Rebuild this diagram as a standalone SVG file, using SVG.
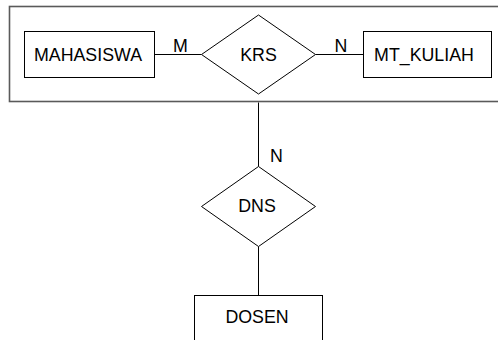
<svg xmlns="http://www.w3.org/2000/svg" width="498" height="340" viewBox="0 0 498 340">
<style>
.shape{fill:#fff;stroke:#000;stroke-width:1}
.line{stroke:#000;stroke-width:1;fill:none}
.t{font-family:"Liberation Sans",Arial,sans-serif;font-size:17.8px;fill:#000}
.c{text-anchor:middle}
</style>
<rect width="498" height="340" fill="#fff"/>
<g id="aggregate">
<rect x="9.5" y="6.5" width="500" height="95" fill="none" stroke="#5a5a5a" stroke-width="1.6"/>
</g>
<g id="connectors">
<line class="line" x1="154.5" y1="54.5" x2="201.5" y2="54.5"/>
<line class="line" x1="315.5" y1="54.5" x2="363.5" y2="54.5"/>
<line class="line" x1="258.5" y1="102.5" x2="258.5" y2="166.5"/>
<line class="line" x1="258.5" y1="246.5" x2="258.5" y2="295.5"/>
<text class="t" x="173" y="52">M</text>
<text class="t" x="334.5" y="52">N</text>
<text class="t" x="270" y="162">N</text>
</g>
<g id="mahasiswa">
<rect class="shape" x="24.5" y="31.5" width="130" height="46"/>
<text class="t c" x="88" y="61">MAHASISWA</text>
</g>
<g id="krs">
<polygon class="shape" points="258.5,15 315.5,54.5 258.5,94 201.5,54.5"/>
<text class="t c" x="258.5" y="61">KRS</text>
</g>
<g id="mt_kuliah">
<rect class="shape" x="363.5" y="31.5" width="128" height="46"/>
<text class="t c" x="424" y="61">MT_KULIAH</text>
</g>
<g id="dns">
<polygon class="shape" points="258.5,166.5 315.5,206.5 258.5,246.5 201.5,206.5"/>
<text class="t c" x="257" y="212">DNS</text>
</g>
<g id="dosen">
<rect class="shape" x="194.5" y="295.5" width="128" height="60"/>
<text class="t c" x="257" y="323">DOSEN</text>
</g>
</svg>
